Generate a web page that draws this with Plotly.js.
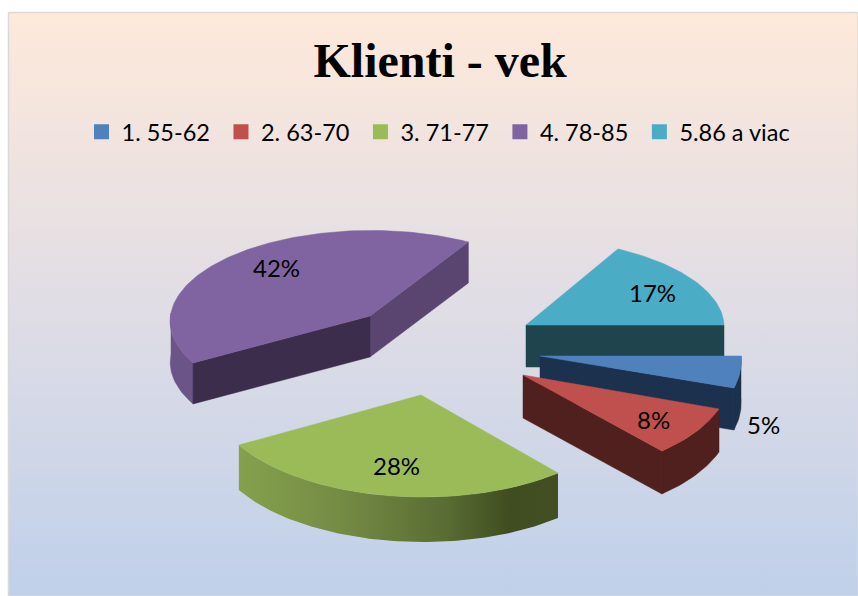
<!DOCTYPE html>
<html>
<head>
<meta charset="utf-8">
<script src="https://cdn.plot.ly/plotly-3.0.1.min.js"></script>
<style>html,body{margin:0;padding:0;background:#fff}#chart{width:858px;height:596px}</style>
</head>
<body>
<div id="chart"></div>
<script>
// ---- data ----
var categories = ["1. 55-62", "2. 63-70", "3. 71-77", "4. 78-85", "5.86 a viac"];
var shares = [5, 8, 28, 42, 17];
var chartTitle = "Klienti - vek";

// ---- styles ----
var topColors = ["#4f81bd", "#c0504d", "#9bbb59", "#8064a2", "#4bacc6"];
var sideColors = ["#1c314e", "#4f201d", null, "#6b5488", "#20444e"];
var cutColors = ["#1c314e", "#4f201d", null, "#3c2d4c", "#20444e"];
var purpleOpenCut = "#5a4570";
// exploded 3D placement of each slice (apex, ellipse axes, shear, perspective, thickness)
var place = [
  {ax:540, ay:356, a:201, b:9,  c:0,   d:103.6, k:0,   h:42},
  {ax:523, ay:375, a:207.5,b:-4.3,c:2.7,d:101.7, k:0,   h:43},
  {ax:421, ay:395, a:209.9,b:-9.2,c:5.4,d:101.9, k:0,   h:45},
  {ax:370, ay:316, a:199, b:-8, c:3,   d:90,    k:0.05,h:41},
  {ax:526, ay:325, a:198, b:3.9,c:0,   d:86.8,  k:0,   h:42}
];
var labelPos = [[763,424],[653,419],[396,465],[276,267],[652,292]];

// ---- geometry derived from the shares ----
var total = shares.reduce(function(s,v){return s+v;},0);
function pt(p,t){
  var co=Math.cos(t), si=Math.sin(t), f=1+p.k*si;
  return [p.ax+(p.a*co+p.b*si)*f, p.ay+(p.c*co+p.d*si)*f];
}
function arc(p,t0,t1){
  var out=[], n=Math.max(4,Math.ceil(Math.abs(t1-t0)/0.02));
  for(var i=0;i<=n;i++){out.push(pt(p,t0+(t1-t0)*i/n));}
  return out;
}
function poly(points,color,extra){
  var tr={type:"scatter",mode:"lines",x:points.map(function(q){return q[0];}),
    y:points.map(function(q){return q[1];}),fill:"toself",fillcolor:color,
    line:{width:0.5,color:color},hoverinfo:"skip",showlegend:false};
  for(var key in extra){tr[key]=extra[key];}
  return tr;
}
function band(top,h){
  var low=top.slice().reverse().map(function(q){return [q[0],q[1]+h];});
  var all=top.concat(low); all.push(top[0]);
  return all;
}
var angles=[], acc=0;
shares.forEach(function(v){var s=acc/total*2*Math.PI; acc+=v; angles.push([s,acc/total*2*Math.PI]);});

var traces=[];
// background panel
traces.push({type:"scatter",mode:"lines",x:[8.5,858,858,8.5,8.5],y:[12.5,12.5,596,596,12.5],
  fill:"toself",line:{color:"#d9d9d9",width:1.5},hoverinfo:"skip",showlegend:false,
  fillcolor:"rgba(0,0,0,0)",
  fillgradient:{type:"vertical",colorscale:[[0,"#bfd0ea"],[0.5,"#e0dde5"],[1,"#fee9da"]]}});

function slice(i){
  var p=place[i], t0=angles[i][0], t1=angles[i][1], apex=[p.ax,p.ay];
  if(i===0||i===1){
    traces.push(poly(band(arc(p,t0,t1),p.h),sideColors[i]));
    traces.push(poly(band([apex,pt(p,t1)],p.h),cutColors[i]));
  }
  if(i===2){
    traces.push(poly(band(arc(p,t0,t1),p.h),"#7f9a4a",{
      fillgradient:{type:"horizontal",colorscale:[[0,"#85a14d"],[0.32,"#748b44"],[0.65,"#596c33"],[0.85,"#3f4d20"],[1,"#434f23"]]},
      line:{width:0}}));
  }
  if(i===3){
    traces.push(poly(band(arc(p,t0,Math.PI),p.h),sideColors[i]));
    traces.push(poly(band([apex,pt(p,t1)],p.h),purpleOpenCut));
    traces.push(poly(band([apex,pt(p,t0)],p.h),cutColors[i]));
  }
  if(i===4){
    traces.push(poly(band([apex,pt(p,t1)],p.h),cutColors[i]));
  }
  var face=[apex].concat(arc(p,t0,t1)); face.push(apex);
  traces.push(poly(face,topColors[i]));
}
[4,3,0,1,2].forEach(slice);

// legend entries
categories.forEach(function(name,i){
  traces.push({type:"scatter",mode:"markers",x:[null],y:[null],name:name+"\u00a0",
    marker:{symbol:"square",size:15,color:topColors[i]},hoverinfo:"skip"});
});

var annotations=shares.map(function(v,i){
  return {x:labelPos[i][0],y:labelPos[i][1],xref:"x",yref:"y",text:v+"%",showarrow:false,
    font:{family:"Lato, sans-serif",size:24,color:"#000"},xanchor:"center",yanchor:"middle"};
});

var layout={
  width:858,height:596,margin:{l:0,r:0,t:0,b:0},
  paper_bgcolor:"#fff",plot_bgcolor:"rgba(0,0,0,0)",
  title:{text:"<b>"+chartTitle+"</b>",x:0.513,xanchor:"center",y:0.899,yanchor:"middle",
    font:{family:"Liberation Serif, serif",size:48,color:"#000"}},
  xaxis:{range:[0,858],visible:false,fixedrange:true},
  yaxis:{range:[596,0],visible:false,fixedrange:true},
  showlegend:true,
  legend:{orientation:"h",x:0.095,xanchor:"left",y:0.7785,yanchor:"middle",
    font:{family:"Lato, sans-serif",size:23.5,color:"#000"},
    tracegroupgap:0,itemclick:false,itemdoubleclick:false,
    bgcolor:"rgba(0,0,0,0)"},
  annotations:annotations,
  hovermode:false
};
Plotly.newPlot("chart",traces,layout,{displayModeBar:false,staticPlot:true});
</script>
</body>
</html>
